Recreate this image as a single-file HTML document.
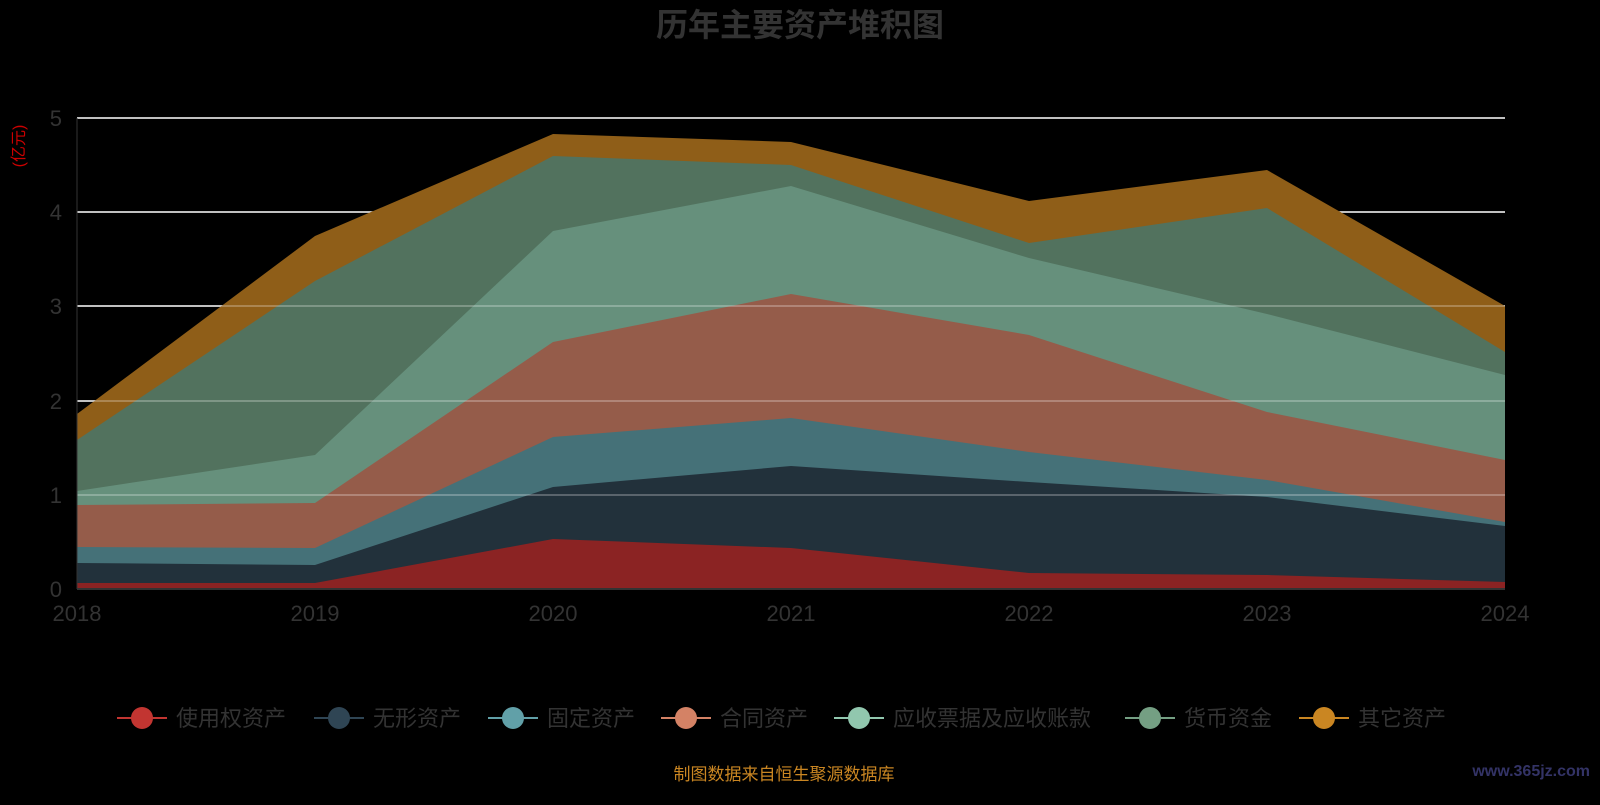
<!DOCTYPE html>
<html><head><meta charset="utf-8"><style>
body{margin:0;background:#000;width:1600px;height:800px;overflow:hidden}
svg text{font-family:"Liberation Sans","Noto Sans CJK SC",sans-serif}
</style></head><body>
<svg width="1600" height="800" xmlns="http://www.w3.org/2000/svg">
<rect width="1600" height="800" fill="#000"/>
<text x="800" y="36" text-anchor="middle" font-size="32" font-weight="bold" fill="#333">历年主要资产堆积图</text>
<text transform="translate(24,146) rotate(-90)" text-anchor="middle" font-size="16" fill="#c00">(亿元)</text>
<g stroke="#fff" stroke-width="1.5">
<line x1="77" y1="118" x2="1505" y2="118"/><line x1="77" y1="212" x2="1505" y2="212"/>
<line x1="77" y1="306" x2="1505" y2="306"/><line x1="77" y1="401" x2="1505" y2="401"/>
<line x1="77" y1="495" x2="1505" y2="495"/>
</g>
<g>
<polygon fill="#8f5e18" points="77,414 315,236 553,134 791,142 1029,201 1267,170 1505,306 1505,589 77,589"/>
<polygon fill="#52725e" points="77,440 315,281 553,156 791,165 1029,243 1267,208 1505,352 1505,589 77,589"/>
<polygon fill="#66907c" points="77,491 315,455 553,231 791,186 1029,258 1267,314 1505,375 1505,589 77,589"/>
<polygon fill="#955c4a" points="77,505 315,503 553,342 791,294 1029,335 1267,412 1505,460 1505,589 77,589"/>
<polygon fill="#457178" points="77,547 315,548 553,437 791,418 1029,452 1267,480 1505,522 1505,589 77,589"/>
<polygon fill="#22313b" points="77,563 315,565 553,487 791,466 1029,482 1267,497 1505,526 1505,589 77,589"/>
<polygon fill="#8b2323" points="77,583 315,583 553,539 791,548 1029,573 1267,575 1505,582 1505,589 77,589"/>
</g>
<g stroke="#fff" stroke-width="1" opacity="0.5">
<line x1="77" y1="306" x2="1505" y2="306"/><line x1="77" y1="401" x2="1505" y2="401"/><line x1="77" y1="495" x2="1505" y2="495"/>
</g>
<line x1="77" y1="118" x2="77" y2="589" stroke="#333"/>
<line x1="77" y1="589" x2="1505" y2="589" stroke="#333" stroke-width="2"/>
<g font-size="22" fill="#333" text-anchor="end">
<text x="62" y="126">5</text><text x="62" y="220">4</text><text x="62" y="314">3</text><text x="62" y="409">2</text><text x="62" y="503">1</text><text x="62" y="597">0</text>
</g>
<g font-size="22" fill="#333" text-anchor="middle">
<text x="77" y="621">2018</text><text x="315" y="621">2019</text><text x="553" y="621">2020</text><text x="791" y="621">2021</text><text x="1029" y="621">2022</text><text x="1267" y="621">2023</text><text x="1505" y="621">2024</text>
</g>
<g font-size="22" fill="#333">
<line x1="117" y1="718" x2="167" y2="718" stroke="#c23531" stroke-width="2"/><circle cx="142" cy="718" r="11" fill="#c23531"/><text x="176" y="726">使用权资产</text>
<line x1="314" y1="718" x2="364" y2="718" stroke="#2f4554" stroke-width="2"/><circle cx="339" cy="718" r="11" fill="#2f4554"/><text x="373" y="726">无形资产</text>
<line x1="488" y1="718" x2="538" y2="718" stroke="#61a0a8" stroke-width="2"/><circle cx="513" cy="718" r="11" fill="#61a0a8"/><text x="547" y="726">固定资产</text>
<line x1="661" y1="718" x2="711" y2="718" stroke="#d48265" stroke-width="2"/><circle cx="686" cy="718" r="11" fill="#d48265"/><text x="720" y="726">合同资产</text>
<line x1="834" y1="718" x2="884" y2="718" stroke="#91c7ae" stroke-width="2"/><circle cx="859" cy="718" r="11" fill="#91c7ae"/><text x="893" y="726">应收票据及应收账款</text>
<line x1="1125" y1="718" x2="1175" y2="718" stroke="#749f83" stroke-width="2"/><circle cx="1150" cy="718" r="11" fill="#749f83"/><text x="1184" y="726">货币资金</text>
<line x1="1299" y1="718" x2="1349" y2="718" stroke="#ca8622" stroke-width="2"/><circle cx="1324" cy="718" r="11" fill="#ca8622"/><text x="1358" y="726">其它资产</text>
</g>
<text x="784" y="780" text-anchor="middle" font-size="17" fill="#ca8622">制图数据来自恒生聚源数据库</text>
<text x="1590" y="776" text-anchor="end" font-size="16" font-weight="bold" fill="#336">www.365jz.com</text>
</svg>
</body></html>
